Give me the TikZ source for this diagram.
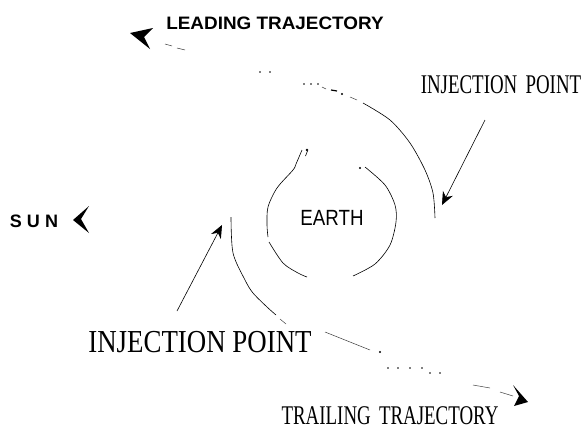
\documentclass[tikz,border=0pt]{standalone}
\usepackage{fontspec}
\setmainfont{Liberation Serif}
\newfontfamily\helv{Liberation Sans}
\newfontfamily\sunfont[LetterSpace=28]{Liberation Sans Bold}
\usetikzlibrary{arrows.meta}

\begin{document}
\begin{tikzpicture}[x=1pt, y=-1pt, >={Stealth[length=13pt,width=11pt]},
  orbit/.style={line width=0.6pt},
  faint/.style={line width=0.5pt, black!75},
  sanslbl/.style={inner sep=0pt, font=\helv\bfseries\fontsize{18}{18}\selectfont},
  romanlbl/.style={inner sep=0pt, xscale=0.7, font=\fontsize{27}{27}\selectfont}]
  \useasboundingbox (0,0) rectangle (583,432);

  % 文字
  \node[sanslbl, xscale=1.05] (lead) at (275,23) {LEADING TRAJECTORY};
  \node[inner sep=0pt, font=\sunfont\fontsize{18}{18}\selectfont] (sun) at (34,221) {SUN};
  \node[inner sep=0pt, xscale=0.85, font=\helv\fontsize{22}{22}\selectfont] (earth) at (332,218) {EARTH};
  \node[romanlbl] (injA) at (501,85) {INJECTION\hspace{5pt} POINT};
  \node[romanlbl, xscale=1.2, font=\fontsize{32}{32}\selectfont] (injB) at (200,342) {INJECTION POINT};
  \node[romanlbl] (trail) at (390,416) {TRAILING\hspace{5pt} TRAJECTORY};

  % 太阳方向
  \fill (73,220) -- (89,206) -- (81,219) -- (89,233) -- cycle;

  % 地球轨道
  \draw[orbit] plot[smooth] coordinates {(302,150) (296,164) (293,170) (277,188) (268,207) (267,225) (268,237)};
  \draw[orbit] plot[smooth] coordinates {(269,242) (283,263) (298,273) (307,277)};
  \fill (307,150) circle (1.4pt);
  \draw[orbit] (307.5,151) -- (305.5,156);
  \fill (360,168) circle (1.2pt);
  \draw[orbit] plot[smooth] coordinates {(365,167) (385,185) (395,205) (396,222) (390,245) (375,264) (353,276)};

  % 前导轨道
  \draw[orbit] plot[smooth] coordinates {(435,218) (433,193) (425,170) (410,143) (390,120) (363,103)};
  \draw[faint] (357,100) -- (350,97);
  \fill (342,94) circle (1.1pt);
  \draw[line width=1.2pt] (337,91) -- (331,90);
  \draw[faint] (326,89) -- (322,87);
  \foreach \px in {304,311,318} \fill (\px,84) circle (0.9pt);
  \foreach \px in {260,270} \fill (\px,72) circle (0.9pt);
  \draw[faint] (185,50) -- (177,48);
  \draw[faint] (172,46) -- (165,44);
  \draw[faint] (140,39) -- (143,41);
  \fill (130,33) -- (153,28) -- (144,37) -- (150,49) -- cycle;

  % 尾随轨道
  \draw[orbit] plot[smooth] coordinates {(231,217) (233,253) (245,280) (253,293) (267,307) (276,315)};
  \draw[faint] (280,319) -- (286,324);
  \draw[faint] (325,332) -- (370,350);
  \fill (380,352) circle (1.1pt);
  \foreach \px in {388,398,410,422} \fill (\px,368) circle (0.9pt);
  \foreach \px in {430,440} \fill (\px,373) circle (0.9pt);
  \draw[faint] (473,385) -- (490,388);
  \draw[faint] (500,392) -- (513,396);
  \fill (528,402) -- (513,385) -- (519,396) -- (514,406) -- cycle;

  % 注入点箭头
  \coordinate (injAtail) at (485,120);
  \coordinate (injAtip) at (442,205);
  \coordinate (injBtail) at (177,311);
  \coordinate (injBtip) at (222,225);
  \draw[orbit, ->] (injAtail) -- (injAtip);
  \draw[orbit, ->] (injBtail) -- (injBtip);
\end{tikzpicture}
\end{document}
